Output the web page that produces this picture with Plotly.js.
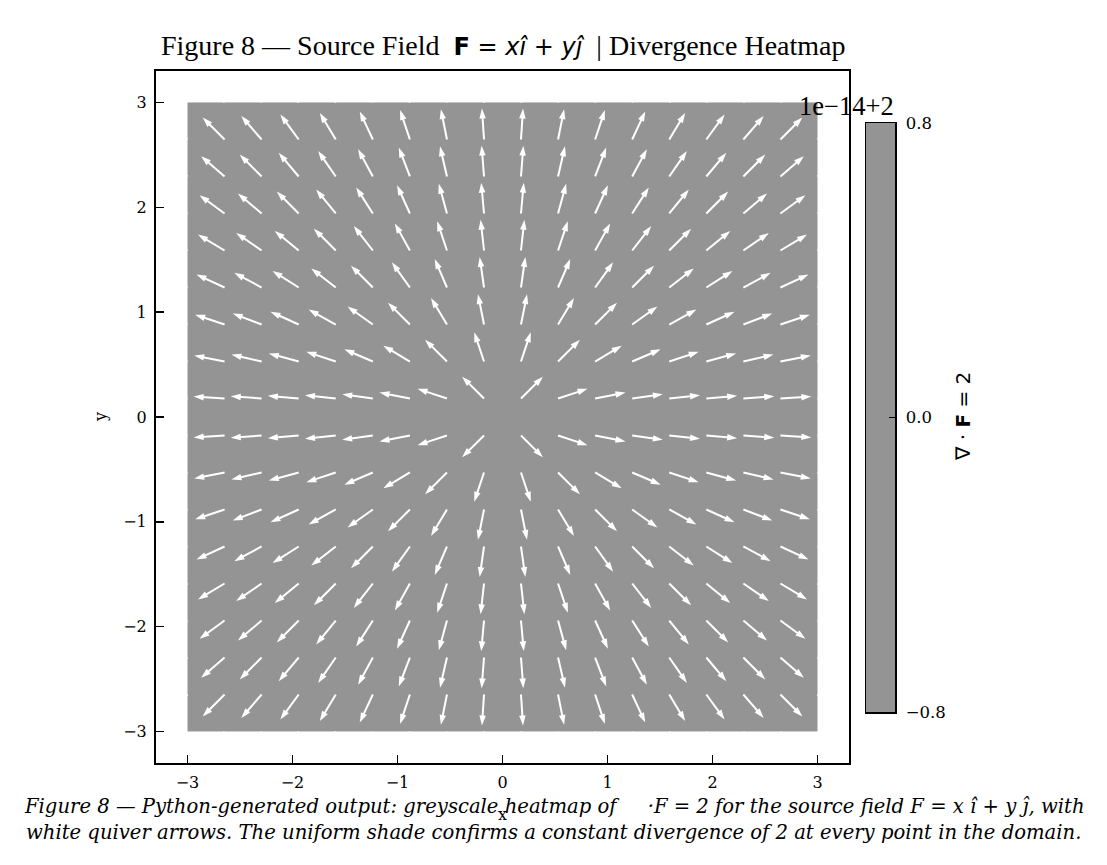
<!DOCTYPE html>
<html><head><meta charset="utf-8">
<script src="https://cdn.plot.ly/plotly-3.0.1.min.js"></script>
<style>body{margin:0;background:#fff}</style></head>
<body>
<div id="chart" style="width:1107px;height:865px"></div>
<script>
// ---- data ----
const gridCoords = [-3, -2.647, -2.294, -1.941, -1.588, -1.235, -0.882, -0.529, -0.176,
                    0.176, 0.529, 0.882, 1.235, 1.588, 1.941, 2.294, 2.647, 3];
const domainEdges = [-3, 3];
const divergenceValue = 2;               // ∇·F = 2 everywhere
const xTickVals = [-3, -2, -1, 0, 1, 2, 3];
const xTickText = ['−3', '−2', '−1', '0', '1', '2', '3'];
const yTickVals = [-3, -2, -1, 0, 1, 2, 3];
const yTickText = ['−3', '−2', '−1', '0', '1', '2', '3'];
const cbarTickVals = [-0.8, 0, 0.8];
const cbarTickText = ['−0.8', '0.0', '0.8'];
const cbarEdges = [-0.8, 0.8];
const cbarOffsetText = '1e−14+2';
const arrowLength = 0.295;               // normalised quiver length (data units)
const headLength = 0.07;                 // shaft stops inside the head (data units)

// ---- styles ----
const GREY = '#949494';
const SERIF = 'Liberation Serif, Times New Roman, serif';
const DSERIF = 'DejaVu Serif, serif';
const SANS = 'DejaVu Sans, sans-serif';
const W = 1107, H = 865;
const px = v => v / W, py = v => 1 - v / H;

// ---- quiver geometry from the field F = x i + y j (normalised) ----
const shaftX = [], shaftY = [], tipX = [], tipY = [], tipAngle = [];
gridCoords.forEach(yv => {
  gridCoords.forEach(xv => {
    const u = xv, v = yv;
    const m = Math.hypot(u, v);
    const dx = u / m, dy = v / m;
    const tx = xv + arrowLength * dx, ty = yv + arrowLength * dy;
    shaftX.push(xv, tx - headLength * dx, null);
    shaftY.push(yv, ty - headLength * dy, null);
    tipX.push(tx); tipY.push(ty);
    tipAngle.push(Math.atan2(dx, dy) * 180 / Math.PI);
  });
});

const traces = [
  {
    type: 'heatmap', x: domainEdges, y: domainEdges, z: [[divergenceValue]],
    colorscale: [[0, GREY], [1, GREY]], showscale: false, hoverinfo: 'skip',
    xaxis: 'x', yaxis: 'y'
  },
  {
    type: 'scatter', mode: 'lines', x: shaftX, y: shaftY,
    line: { color: '#ffffff', width: 2 }, hoverinfo: 'skip', connectgaps: false,
    xaxis: 'x', yaxis: 'y'
  },
  {
    type: 'scatter', mode: 'markers', x: tipX, y: tipY,
    marker: { symbol: 'arrow', size: 10.5, angle: tipAngle, color: '#ffffff',
              line: { width: 0 } },
    hoverinfo: 'skip', xaxis: 'x', yaxis: 'y'
  },
  {
    type: 'heatmap', x: [0, 1], y: cbarEdges, z: [[divergenceValue]],
    colorscale: [[0, GREY], [1, GREY]], showscale: false, hoverinfo: 'skip',
    xaxis: 'x2', yaxis: 'y2'
  }
];

const annotations = [
  { xref: 'paper', yref: 'paper', x: px(503), y: py(45), showarrow: false,
    xanchor: 'center', yanchor: 'middle',
    font: { family: SERIF, size: 28, color: '#000' },
    text: 'Figure 8 — Source Field  <span style="font-family:DejaVu Sans;font-size:24px"><b>F</b> = <i>x</i><i>î</i> + <i>y</i><i>ĵ</i></span>  | Divergence Heatmap' },
  { xref: 'paper', yref: 'paper', x: px(846), y: py(106), showarrow: false,
    xanchor: 'center', yanchor: 'middle',
    font: { family: SERIF, size: 26.5, color: '#000' }, text: cbarOffsetText },
  { xref: 'paper', yref: 'paper', x: px(502), y: py(814), showarrow: false,
    xanchor: 'center', yanchor: 'middle',
    font: { family: DSERIF, size: 16, color: '#000' }, text: 'x' },
  { xref: 'paper', yref: 'paper', x: px(100), y: py(417), showarrow: false,
    xanchor: 'center', yanchor: 'middle', textangle: -90,
    font: { family: DSERIF, size: 16, color: '#000' }, text: 'y' },
  { xref: 'paper', yref: 'paper', x: px(963), y: py(417), showarrow: false,
    xanchor: 'center', yanchor: 'middle', textangle: -90,
    font: { family: SANS, size: 20, color: '#000' }, text: '∇ · <b>F</b> = 2' },
  { xref: 'paper', yref: 'paper', x: px(554), y: py(806), showarrow: false,
    xanchor: 'center', yanchor: 'middle',
    font: { family: DSERIF, size: 19.6, color: '#000', style: 'italic' },
    text: 'Figure 8 — Python-generated output: greyscale heatmap of     ·F = 2 for the source field F = x î + y ĵ, with' },
  { xref: 'paper', yref: 'paper', x: px(553), y: py(832), showarrow: false,
    xanchor: 'center', yanchor: 'middle',
    font: { family: DSERIF, size: 19.6, color: '#000', style: 'italic' },
    text: 'white quiver arrows. The uniform shade confirms a constant divergence of 2 at every point in the domain.' }
];

const axCommon = {
  showgrid: false, zeroline: false, showline: true, linecolor: '#000', linewidth: 2,
  mirror: true, ticks: 'inside', ticklen: 8, tickwidth: 1.5, tickcolor: '#000',
  tickfont: { family: DSERIF, size: 16, color: '#000' }, fixedrange: true,
  ticklabelstandoff: 4
};

const layout = {
  width: W, height: H,
  margin: { l: 0, r: 0, t: 0, b: 0 },
  paper_bgcolor: '#fff', plot_bgcolor: '#fff',
  showlegend: false,
  xaxis: Object.assign({}, axCommon, {
    domain: [px(156), px(849)], range: [-3.3, 3.3], anchor: 'y',
    tickmode: 'array', tickvals: xTickVals, ticktext: xTickText
  }),
  yaxis: Object.assign({}, axCommon, {
    domain: [py(763), py(71)], range: [-3.3, 3.3], anchor: 'x',
    tickmode: 'array', tickvals: yTickVals, ticktext: yTickText
  }),
  xaxis2: {
    domain: [px(866), px(895)], range: [0, 1], anchor: 'y2',
    showgrid: false, zeroline: false, showline: true, linecolor: '#000', linewidth: 1.5,
    mirror: true, ticks: '', showticklabels: false, fixedrange: true
  },
  yaxis2: {
    domain: [py(712), py(123)], range: [-0.8, 0.8], anchor: 'x2', side: 'right',
    showgrid: false, zeroline: false, showline: true, linecolor: '#000', linewidth: 1.5,
    mirror: true, ticks: 'inside', ticklen: 6, tickwidth: 1.5, tickcolor: '#000',
    tickmode: 'array', tickvals: cbarTickVals, ticktext: cbarTickText,
    tickfont: { family: DSERIF, size: 16.5, color: '#000' }, fixedrange: true,
    ticklabelstandoff: 6
  },
  annotations: annotations
};

Plotly.newPlot('chart', traces, layout, { displayModeBar: false, staticPlot: true });
</script>
</body></html>
